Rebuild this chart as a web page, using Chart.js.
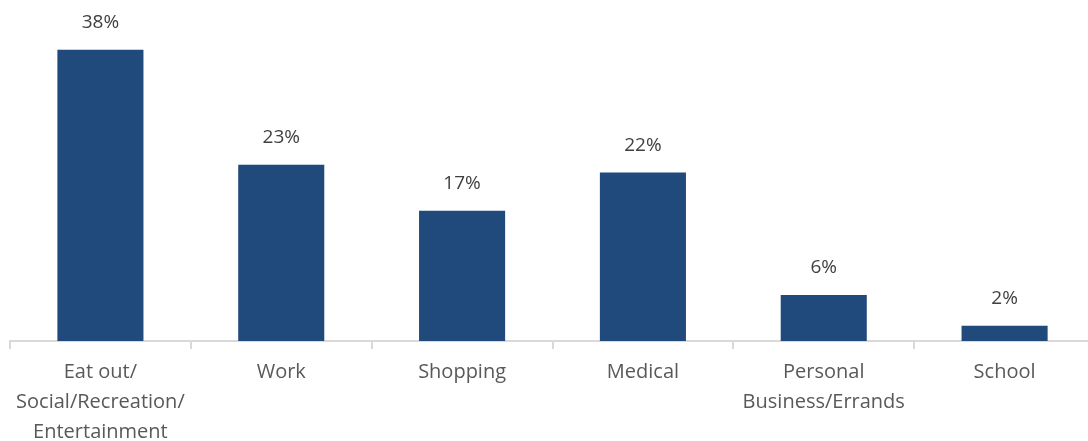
<!DOCTYPE html>
<html>
<head>
<meta charset="utf-8">
<script src="https://cdn.jsdelivr.net/npm/chart.js@4/dist/chart.umd.min.js"></script>
<style>
  html, body { margin: 0; padding: 0; background: #fff; overflow: hidden; }
  #wrap { width: 1100px; height: 441px; }
</style>
</head>
<body>
<div id="wrap"><canvas id="trips"></canvas></div>
<script>
const categories = [
  ["Eat out/", "Social/Recreation/", "Entertainment"],
  "Work",
  "Shopping",
  "Medical",
  ["Personal", "Business/Errands"],
  "School"
];
const tripShares = [38, 23, 17, 22, 6, 2];

const FONT = "'Open Sans', 'Liberation Sans', sans-serif";

// Writes the percentage above each bar
const valueLabels = {
  id: "valueLabels",
  afterDatasetsDraw(chart) {
    const ctx = chart.ctx;
    const meta = chart.getDatasetMeta(0);
    ctx.save();
    ctx.font = "19px " + FONT;
    ctx.fillStyle = "#404040";
    ctx.textAlign = "center";
    ctx.textBaseline = "middle";
    meta.data.forEach((bar, i) => {
      ctx.fillText(tripShares[i] + "%", bar.x, bar.y - 27);
    });
    ctx.restore();
  }
};

new Chart(document.getElementById("trips"), {
  type: "bar",
  data: {
    labels: categories,
    datasets: [{
      data: tripShares,
      backgroundColor: "#214a7c",
      barPercentage: 0.476,
      categoryPercentage: 1
    }]
  },
  options: {
    responsive: true,
    maintainAspectRatio: false,
    animation: false,
    layout: { padding: { left: 10, right: 5, top: 0, bottom: 0 } },
    plugins: { legend: { display: false }, tooltip: { enabled: false } },
    scales: {
      x: {
        grid: {
          offset: true,
          drawOnChartArea: false,
          tickLength: 8,
          color: "#d9d9d9",
          lineWidth: 2
        },
        border: { color: "#d9d9d9", width: 2 },
        ticks: {
          color: "#595959",
          font: { family: FONT, size: 20, lineHeight: 1.5 },
          padding: 8,
          maxRotation: 0,
          autoSkip: false
        },
        afterFit(scale) { scale.height = 100; }
      },
      y: {
        display: false,
        min: 0,
        max: 44.5
      }
    }
  },
  plugins: [valueLabels]
});
</script>
</body>
</html>
